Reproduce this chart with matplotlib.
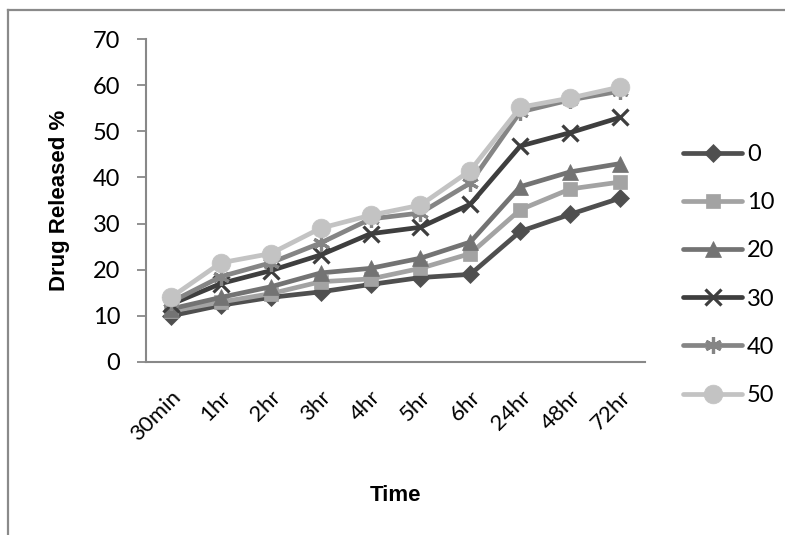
import matplotlib.pyplot as plt
from matplotlib.lines import Line2D
import numpy as np

times = ["30min", "1hr", "2hr", "3hr", "4hr", "5hr", "6hr", "24hr", "48hr", "72hr"]
series_names = ["0", "10", "20", "30", "40", "50"]

release_0 = [10, 12.3, 14, 15.2, 16.8, 18.3, 19, 28.3, 32, 35.5]
release_10 = [11, 13, 14.8, 17.4, 18, 20.3, 23.5, 33, 37.5, 39]
release_20 = [11.5, 14, 16.3, 19.3, 20.3, 22.5, 26, 38, 41.2, 43]
release_30 = [12.5, 17, 19.8, 23.2, 27.8, 29.2, 34.2, 46.8, 49.7, 53]
release_40 = [13, 18.5, 21.5, 25.8, 31, 32.3, 38.8, 54.2, 56.8, 58.7]
release_50 = [14, 21.5, 23.5, 29, 31.8, 34, 41.5, 55.2, 57.2, 59.6]

all_series = [release_0, release_10, release_20, release_30, release_40, release_50]

colors = ["#4f4f4f", "#a3a3a3", "#737373", "#3e3e3e", "#858585", "#c3c3c3"]
markers = ["D", "s", "^", "x", (6, 2, 0), "o"]
msizes = [9.5, 10.5, 11.5, 12, 12, 13.5]

tick_font = "Lato"
label_font = "Liberation Sans"

fig = plt.figure(figsize=(7.85, 5.35), dpi=100)
ax = fig.add_axes([146 / 785, 173 / 535, 499 / 785, 323 / 535])

x = np.arange(len(times))
for vals, name, c, m, ms in zip(all_series, series_names, colors, markers, msizes):
    ax.plot(x, vals, color=c, lw=3.4, marker=m, markersize=ms,
            markeredgewidth=2.3 if m in ("x", (6, 2, 0)) else 0.5,
            markeredgecolor=c, markerfacecolor=c, label=name,
            solid_capstyle="round", solid_joinstyle="round")

ax.set_xlim(-0.5, len(times) - 0.5)
ax.set_ylim(0, 70)
ax.set_yticks(range(0, 71, 10))
ax.set_xticks(x)
ax.set_xticklabels(times, rotation=45, ha="right", rotation_mode="anchor",
                   fontsize=16, family=tick_font)
ax.tick_params(axis="x", length=0, pad=18)
ax.tick_params(axis="y", length=6.5, width=1.3, color="#888888", pad=12,
               labelsize=17)
for lbl in ax.get_yticklabels():
    lbl.set_family(tick_font)

for side in ("top", "right"):
    ax.spines[side].set_visible(False)
for side in ("left", "bottom"):
    ax.spines[side].set_color("#888888")
    ax.spines[side].set_linewidth(1.5)

ax.set_xlabel("Time", fontsize=16, fontweight="bold", family=label_font)
ax.xaxis.set_label_coords(0.5, -0.38)
ax.set_ylabel("Drug Released %", fontsize=16, fontweight="bold", family=label_font)
ax.yaxis.set_label_coords(-0.152, 0.5)

leg = ax.legend(loc="center left", bbox_to_anchor=(683 / 785, 0.486),
                bbox_transform=fig.transFigure, frameon=False, borderpad=0,
                borderaxespad=0, handlelength=2.5, handletextpad=0.2,
                labelspacing=1.15, prop={"family": tick_font, "size": 17})

# chart-area border on the top and left edges
border = dict(color="#8a8a8a", lw=1.6, transform=fig.transFigure, clip_on=False)
fig.add_artist(Line2D([8 / 785, 8 / 785], [0, 1 - 10 / 535], **border))
fig.add_artist(Line2D([8 / 785, 1], [1 - 10 / 535, 1 - 10 / 535], **border))

fig.savefig("out.png", dpi=100)
